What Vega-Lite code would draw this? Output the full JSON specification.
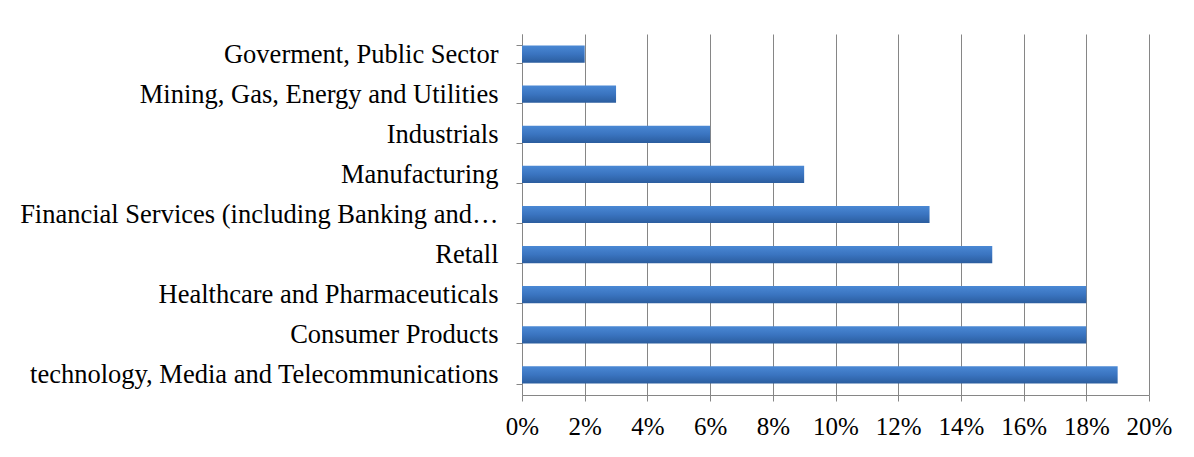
{
  "$schema": "https://vega.github.io/schema/vega-lite/v6.json",
  "autosize": "none",
  "width": 627,
  "height": 361,
  "padding": {"left": 522, "top": 34, "right": 45, "bottom": 62},
  "background": "white",
  "config": {
    "view": {"stroke": null},
    "font": "Liberation Serif"
  },
  "data": {
    "values": [
      {"sector": "Goverment, Public Sector", "share": 0.02},
      {"sector": "Mining, Gas, Energy and Utilities", "share": 0.03},
      {"sector": "Industrials", "share": 0.06},
      {"sector": "Manufacturing", "share": 0.09},
      {"sector": "Financial Services (including Banking and Insurance)", "share": 0.13},
      {"sector": "Retall", "share": 0.15},
      {"sector": "Healthcare and Pharmaceuticals", "share": 0.18},
      {"sector": "Consumer Products", "share": 0.18},
      {"sector": "technology, Media and Telecommunications", "share": 0.19}
    ]
  },
  "mark": {
    "type": "bar",
    "color": {
      "gradient": "linear",
      "x1": 0, "y1": 0, "x2": 0, "y2": 1,
      "stops": [
        {"offset": 0, "color": "#4a88d4"},
        {"offset": 0.5, "color": "#3a74c0"},
        {"offset": 1, "color": "#2b5d9e"}
      ]
    }
  },
  "encoding": {
    "y": {
      "field": "sector",
      "type": "nominal",
      "sort": null,
      "title": null,
      "scale": {"paddingInner": 0.57, "paddingOuter": 0.285},
      "axis": {
        "domainColor": "#868686",
        "tickColor": "#868686",
        "tickSize": 6,
        "tickBand": "extent",
        "labelFont": "Liberation Serif",
        "labelFontSize": 26.5,
        "labelColor": "black",
        "labelPadding": 18,
        "labelLimit": 482,
        "grid": false
      }
    },
    "x": {
      "field": "share",
      "type": "quantitative",
      "title": null,
      "scale": {"domain": [0, 0.2], "nice": false},
      "axis": {
        "format": ".0%",
        "values": [0, 0.02, 0.04, 0.06, 0.08, 0.1, 0.12, 0.14, 0.16, 0.18, 0.2],
        "domainColor": "#868686",
        "tickColor": "#868686",
        "tickSize": 6,
        "gridColor": "#868686",
        "gridOpacity": 1,
        "labelFont": "Liberation Serif",
        "labelFontSize": 25,
        "labelColor": "black",
        "labelPadding": 13,
        "labelFlush": false
      }
    }
  }
}
